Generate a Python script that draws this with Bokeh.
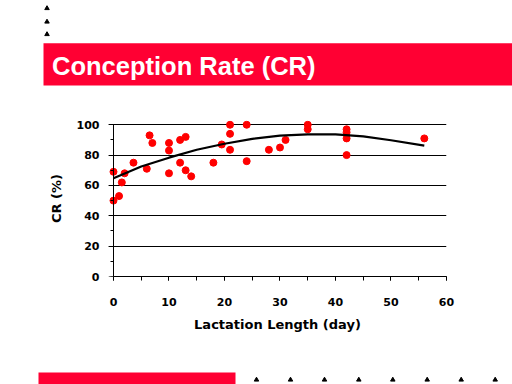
from bokeh.plotting import figure
from bokeh.layouts import column
from bokeh.models import SingleIntervalTicker, Range1d, LinearAxis
from bokeh.core.properties import value
from bokeh.embed import file_html
from bokeh.resources import INLINE

# ---- data ----
lactation_days = [0, 0, 1, 1.5, 2, 3.6, 6, 6.5, 7, 10, 10, 10, 12, 12, 13, 13, 14,
                  18, 19.5, 21, 21, 21, 24, 24, 28, 30, 31, 35, 35, 42, 42, 42, 42, 56]
conception_rate = [69, 50, 53, 62, 68, 75, 71, 93, 88, 88, 83, 68, 90, 75, 92, 70, 66,
                   75, 87, 100, 94, 83.5, 100, 76, 83.5, 85, 90, 100, 97, 97, 95, 91, 80, 91]
trend_days = [0, 5, 10, 15, 20, 25, 30, 35, 40, 45, 50, 56]
trend_rate = [64.7, 72.5, 78.3, 83.5, 87.5, 90.7, 92.8, 93.7, 93.6, 92.3, 89.8, 86.2]

title_text = "Conception Rate (CR)"
x_label = "Lactation Length (day)"
y_label = "CR (%)"

RED = "#FF0033"
W = 512


def no_align(f):
    try:
        f.frame_align = False
    except Exception:
        pass


def canvas_fig(h):
    f = figure(width=W, height=h, output_backend="svg", toolbar_location=None,
               x_range=Range1d(0, W), y_range=Range1d(h, 0),
               min_border=0, min_border_left=0, min_border_right=0,
               min_border_top=0, min_border_bottom=0)
    f.axis.visible = False
    f.grid.visible = False
    f.outline_line_color = None
    f.background_fill_color = "white"
    f.border_fill_color = "white"
    no_align(f)
    return f


# ---- header: bullets, red title bar ----
head = canvas_fig(100)
head.scatter([46.5, 46.5, 46.5], [7.8, 21.3, 33.8], marker="triangle", size=4.5,
             color="black")
head.quad(left=[43], right=[512], top=[42.7], bottom=[85], fill_color=RED,
          line_color=None)
head.text(x=[51.5], y=[65], text=[title_text], text_color="white",
          text_font=value("Liberation Sans"), text_font_style="bold",
          text_font_size="25.5px", text_baseline="alphabetic", text_align="left")

# ---- main chart ----
p = figure(width=W, height=240, output_backend="svg", toolbar_location=None,
           x_range=Range1d(-0.9, 60), y_range=Range1d(0, 102.8),
           min_border_left=108, min_border_right=66,
           min_border_top=20, min_border_bottom=64)
no_align(p)
p.outline_line_color = None
p.background_fill_color = "white"
p.border_fill_color = "white"

p.scatter(lactation_days, conception_rate, size=7, color="#FF0000")
p.line(trend_days, trend_rate, line_color="black", line_width=2.2)

xticker = SingleIntervalTicker(interval=10, num_minor_ticks=2)
yticker = SingleIntervalTicker(interval=20, num_minor_ticks=2)

xa = p.xaxis[0]
ya = p.yaxis[0]
xa.ticker = xticker
ya.ticker = yticker
xa.bounds = (0, 60)
for ax in (xa, ya):
    ax.major_label_text_font = "DejaVu Sans"
    ax.major_label_text_font_style = "bold"
    ax.major_label_text_font_size = "11px"
    ax.major_label_text_color = "black"
    ax.axis_label_text_font = "DejaVu Sans"
    ax.axis_label_text_font_style = "bold"
    ax.axis_label_text_font_size = "13px"
    ax.axis_label_text_color = "black"

xa.axis_line_color = "black"
xa.major_tick_line_color = "black"
xa.minor_tick_line_color = "black"
xa.major_tick_in = 0
xa.minor_tick_in = 0
xa.major_tick_out = 4
xa.minor_tick_out = 4
xa.major_label_standoff = 17
xa.axis_label = x_label
xa.axis_label_standoff = 8

# labelled y axis sits at the frame edge; its line/ticks are hidden
ya.axis_line_color = None
ya.major_tick_line_color = None
ya.minor_tick_line_color = None
ya.major_tick_in = 0
ya.minor_tick_in = 0
ya.major_tick_out = 0
ya.minor_tick_out = 0
ya.major_label_standoff = 9
ya.axis_label = y_label
ya.axis_label_standoff = 10

# visible y axis line + ticks at x = 0
ya2 = LinearAxis(ticker=yticker, fixed_location=0, bounds=(0, 100),
                 axis_line_color="black", major_tick_line_color="black",
                 minor_tick_line_color="black", major_tick_in=0, minor_tick_in=0,
                 major_tick_out=5, minor_tick_out=3,
                 major_label_text_font_size="0px", major_label_text_color=None)
p.add_layout(ya2, "left")

p.xgrid.grid_line_color = None
p.ygrid.ticker = yticker
p.ygrid.grid_line_color = "black"
p.ygrid.grid_line_width = 1

# ---- footer: red bar and bullets ----
foot = canvas_fig(44)
foot.quad(left=[38], right=[235], top=[32], bottom=[44], fill_color=RED, line_color=None)
foot.scatter([256, 290, 324, 358.3, 392.3, 426.7, 460.7, 494.7], [39.3] * 8,
             marker="triangle", size=4.5, color="black")

layout = column(head, p, foot, spacing=0)
open("out.html", "w").write(file_html(layout, INLINE))
